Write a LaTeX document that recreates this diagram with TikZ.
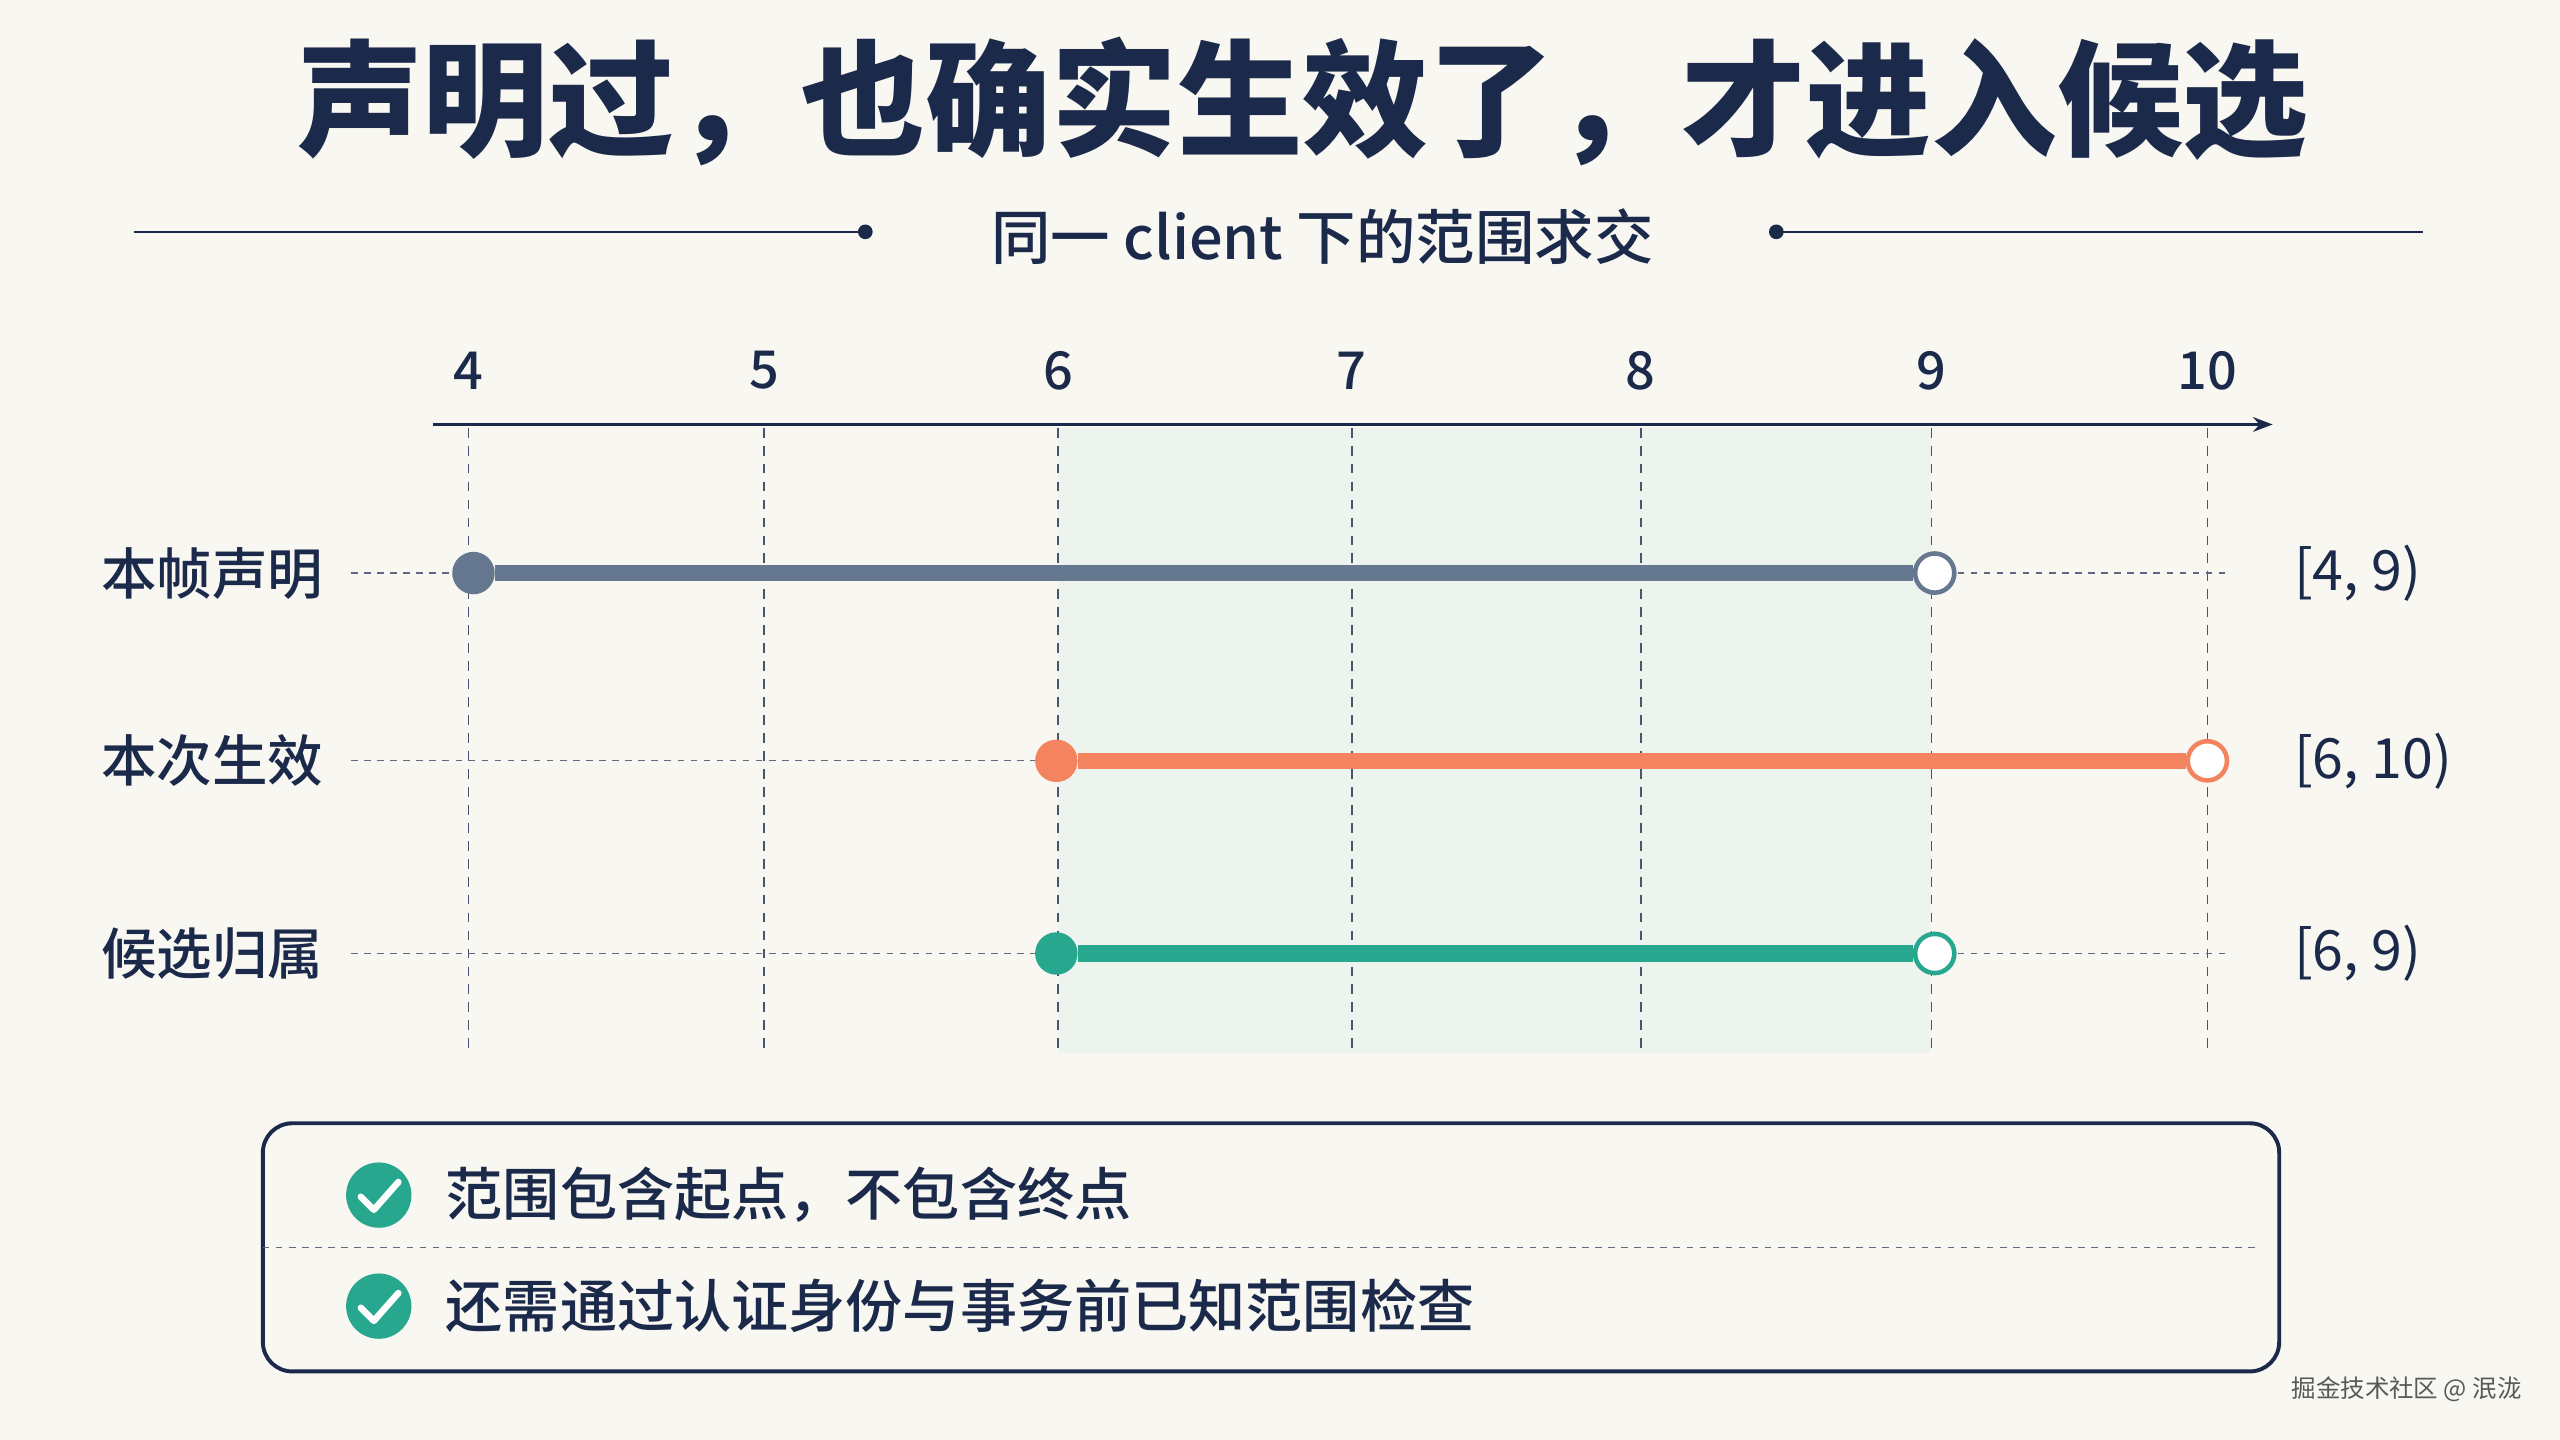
\documentclass[tikz,border=0pt]{standalone}
\usepackage{fontspec}
\setmainfont{Noto Sans CJK SC}
\newfontfamily\med{Noto Sans CJK SC Medium}
\usetikzlibrary{arrows.meta}
\definecolor{bg}{HTML}{F8F7F1}
\definecolor{navy}{HTML}{1B2A4A}
\definecolor{gr}{HTML}{66788F}
\definecolor{org}{HTML}{F4845F}
\definecolor{tea}{HTML}{26A78E}
\definecolor{shadec}{HTML}{EDF4EE}
\begin{document}
\begin{tikzpicture}[x=0.5pt,y=-0.5pt,
  grid/.style={navy!80,dash pattern=on 3pt off 2.5pt,line width=0.5pt},
  hgrid/.style={navy!70,dash pattern=on 2pt off 2pt,line width=0.4pt},
  tick/.style={font=\fontsize{16}{16}\selectfont\med,text=navy},
  rowlab/.style={font=\fontsize{17}{17}\selectfont\med,text=navy},
  rng/.style={font=\fontsize{17}{17}\selectfont,text=navy,anchor=west},
  bar/.style={line width=5pt},
  fdot/.style={circle,inner sep=0pt,minimum size=13pt},
  odot/.style={circle,inner sep=0pt,minimum size=12pt,fill=white,line width=1.4pt},
  note/.style={font=\fontsize{17.5}{17.5}\selectfont\med,text=navy,anchor=west}]
\fill[bg] (0,0) rectangle (1568,882);
\useasboundingbox (0,0) rectangle (1568,882);
\node[font=\fontsize{38.5}{38.5}\selectfont\bfseries,text=navy] (title) at (798,62) {声明过，也确实生效了，才进入候选};
\node[font=\fontsize{18.2}{18.2}\selectfont\med,text=navy] (sub) at (810,145) {同一 client 下的范围求交};
\coordinate (l1) at (82,142); \coordinate (l2) at (530,142);
\coordinate (r1) at (1088,142); \coordinate (r2) at (1484,142);
\draw[navy,line width=0.8pt] (l1)--(l2); \fill[navy] (l2) circle (4.5);
\draw[navy,line width=0.8pt] (r1)--(r2); \fill[navy] (r1) circle (4.5);
\fill[shadec] (648,262) rectangle (1183,645);
\coordinate (a0) at (265,260); \coordinate (a1) at (1392,260);
\draw[navy,line width=0.8pt,-{Stealth[length=6pt]}] (a0)--(a1);
\foreach \x/\t in {287/4,468/5,648/6,828/7,1005/8,1183/9,1352/10}{
  \node[tick] (t\t) at (\x,227) {\t};
  \draw[grid] (\x,262)--(\x,645);
}
\foreach \y/\n/\t in {351/a/本帧声明,466/b/本次生效,584/c/候选归属}{
  \node[rowlab] (lab\n) at (130,\y) {\t};
  \draw[hgrid] (215,\y)--(1365,\y);
}
\node[fdot,fill=gr] (s1) at (290,351) {};
\node[odot,draw=gr] (e1) at (1185,351) {};
\draw[bar,gr] (s1)--(e1);
\node[fdot,fill=org] (s2) at (647,466) {};
\node[odot,draw=org] (e2) at (1352,466) {};
\draw[bar,org] (s2)--(e2);
\node[fdot,fill=tea] (s3) at (647,584) {};
\node[odot,draw=tea] (e3) at (1185,584) {};
\draw[bar,tea] (s3)--(e3);
\node[rng] (ra) at (1398,351) {[4, 9)};
\node[rng] (rb) at (1398,466) {[6, 10)};
\node[rng] (rc) at (1398,584) {[6, 9)};
\draw[navy,line width=1.2pt,rounded corners=9pt] (161,688) rectangle (1396,840);
\draw[hgrid] (161,764)--(1385,764);
\foreach \y/\n/\t in {732/a/范围包含起点，不包含终点,800/b/还需通过认证身份与事务前已知范围检查}{
  \node[circle,fill=tea,minimum size=20pt,inner sep=0pt] (c\n) at (232,\y) {};
  \draw[white,line width=2pt,line cap=round,line join=round] (221,\y+1)--(229,\y+9)--(244,\y-8);
  \node[note] (n\n) at (266,\y) {\t};
}
\node[font=\fontsize{7.5}{7.5}\selectfont,text=gray!70!black] (wm) at (1474,851) {掘金技术社区 @ 泯泷};
\end{tikzpicture}
\end{document}
